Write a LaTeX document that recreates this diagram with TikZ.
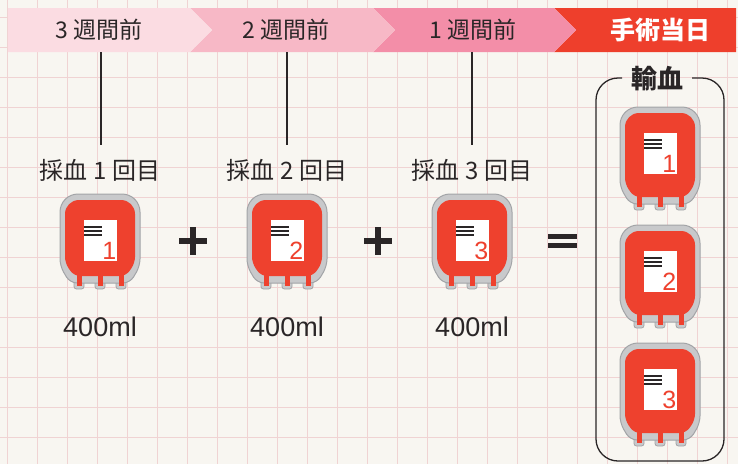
\documentclass[tikz,border=0pt]{standalone}
\usepackage{fontspec}
\setmainfont{Noto Sans CJK JP}
\newfontfamily\latinsans{Liberation Sans}

\definecolor{paper}{HTML}{F8F6F1}
\definecolor{gridpink}{HTML}{F0D3D3}
\definecolor{stepA}{HTML}{FBDCE2}
\definecolor{stepB}{HTML}{F7B8C6}
\definecolor{stepC}{HTML}{F38EA8}
\definecolor{stepD}{HTML}{EE3F2C}
\definecolor{ink}{HTML}{2A2627}
\definecolor{bagred}{HTML}{EE412E}
\definecolor{rimfill}{HTML}{C8C9CB}
\definecolor{rimline}{HTML}{A2A4A7}

\tikzset{
  gridline/.style={gridpink, line width=0.8pt},
  steptext/.style={text=ink, inner sep=0pt, font=\fontsize{23}{23}\selectfont},
  labeltext/.style={text=ink, inner sep=0pt, font=\fontsize{24}{24}\selectfont},
  voltext/.style={text=ink, inner sep=0pt, font=\latinsans\fontsize{27}{27}\selectfont},
  titletext/.style={text=ink, inner sep=0pt, font=\bfseries\fontsize{26}{26}\selectfont},
  tick/.style={ink, line width=1.2pt},
  signbar/.style={ink, line width=6pt},
  boxline/.style={ink, line width=1.3pt, rounded corners=22pt},
  % blood bag: #1 = height of the body, #2 = number on the label
  pics/bloodbag/.style 2 args={code={
    % tubes at the foot of the bag
    \foreach \dx in {-21,0,21}{
      \filldraw[fill=rimfill, draw=rimline, line width=0.8pt, rounded corners=2.5pt]
        (\dx-5,#1-6) rectangle (\dx+5,#1+6);
    }
    % outer rim
    \filldraw[fill=rimfill, draw=rimline, line width=1pt]
      (-40,45) [rounded corners=18pt] -- (-40,0) -- (40,0) -- (40,45)
      [rounded corners=7pt] -- (40,#1-17) -- (30,#1) -- (-30,#1) -- (-40,#1-17) -- cycle;
    % blood inside
    \fill[bagred]
      (-35,45) [rounded corners=14pt] -- (-35,6) -- (35,6) -- (35,45)
      [rounded corners=6pt] -- (35,#1-20) -- (26,#1-7) -- (-26,#1-7) -- (-35,#1-20) -- cycle;
    \foreach \dx in {-21,0,21}{
      \fill[bagred] (\dx-2.5,#1-10) rectangle (\dx+2.5,#1+3);
    }
    % label
    \fill[white] (-16,26) rectangle (17,67);
    \foreach \ly in {33,37,41}{
      \draw[ink, line width=2.3pt] (-16,\ly) -- (2,\ly);
    }
    \node[anchor=base east, inner sep=0pt, text=bagred,
          font=\latinsans\fontsize{25}{25}\selectfont] (num) at (16.5,65.5) {#2};
  }}
}

\begin{document}
\begin{tikzpicture}[x=1pt, y=-1pt]
  \useasboundingbox (0,0) rectangle (738,464);
  \fill[paper] (0,0) rectangle (738,464);

  % squared paper
  \begin{scope}
    \clip (0,0) rectangle (738,464);
    \foreach \gx in {7,37,...,727}{ \draw[gridline] (\gx,0) -- (\gx,464); }
    \foreach \gy in {17,47,...,467}{ \draw[gridline] (0,\gy) -- (738,\gy); }
  \end{scope}

  % timeline arrows
  \fill[stepD] (554,8) -- (736,8) -- (736,52) -- (554,52) -- (576,30) -- cycle;
  \fill[stepC] (373,8) -- (554,8) -- (576,30) -- (554,52) -- (373,52) -- (395,30) -- cycle;
  \fill[stepB] (190,8) -- (373,8) -- (395,30) -- (373,52) -- (190,52) -- (212,30) -- cycle;
  \fill[stepA] (8,8) -- (190,8) -- (212,30) -- (190,52) -- (8,52) -- cycle;

  \node[steptext] (w3) at (99,30) {3 週間前};
  \node[steptext] (w2) at (286,30) {2 週間前};
  \node[steptext] (w1) at (473,30) {1 週間前};
  \node[steptext, text=white, font=\bfseries\fontsize{25}{25}\selectfont] (op) at (660,30) {手術当日};

  % drop lines from the timeline
  \coordinate (t1) at (101,52);  \coordinate (d1) at (101,145);
  \coordinate (t2) at (287,52);  \coordinate (d2) at (287,145);
  \coordinate (t3) at (472,52);  \coordinate (d3) at (472,145);
  \draw[tick] (t1) -- (d1);
  \draw[tick] (t2) -- (d2);
  \draw[tick] (t3) -- (d3);

  % collections
  \node[labeltext] (c1) at (100,170) {採血 1 回目};
  \node[labeltext] (c2) at (287,170) {採血 2 回目};
  \node[labeltext] (c3) at (472,170) {採血 3 回目};

  \pic (bagA) at (100,194) {bloodbag={89}{1}};
  \pic (bagB) at (287,194) {bloodbag={89}{2}};
  \pic (bagC) at (472,194) {bloodbag={89}{3}};

  \node[voltext] (v1) at (100,327) {400ml};
  \node[voltext] (v2) at (287,327) {400ml};
  \node[voltext] (v3) at (472,327) {400ml};

  % plus and equals signs
  \draw[signbar] (179,241) -- (207,241) (193,227) -- (193,255);
  \draw[signbar] (364,241) -- (392,241) (378,227) -- (378,255);
  \draw[ink, line width=5pt] (548,236) -- (577,236) (548,245) -- (577,245);

  % transfusion group
  \draw[boxline] (622,78) -- (596,78) -- (596,461) -- (724,461) -- (724,78) -- (692,78);
  \node[titletext] (tr) at (657,79) {輸血};

  \pic (bagD) at (660,107) {bloodbag={97}{1}};
  \pic (bagE) at (660,225) {bloodbag={97}{2}};
  \pic (bagF) at (660,343) {bloodbag={97}{3}};
\end{tikzpicture}
\end{document}
